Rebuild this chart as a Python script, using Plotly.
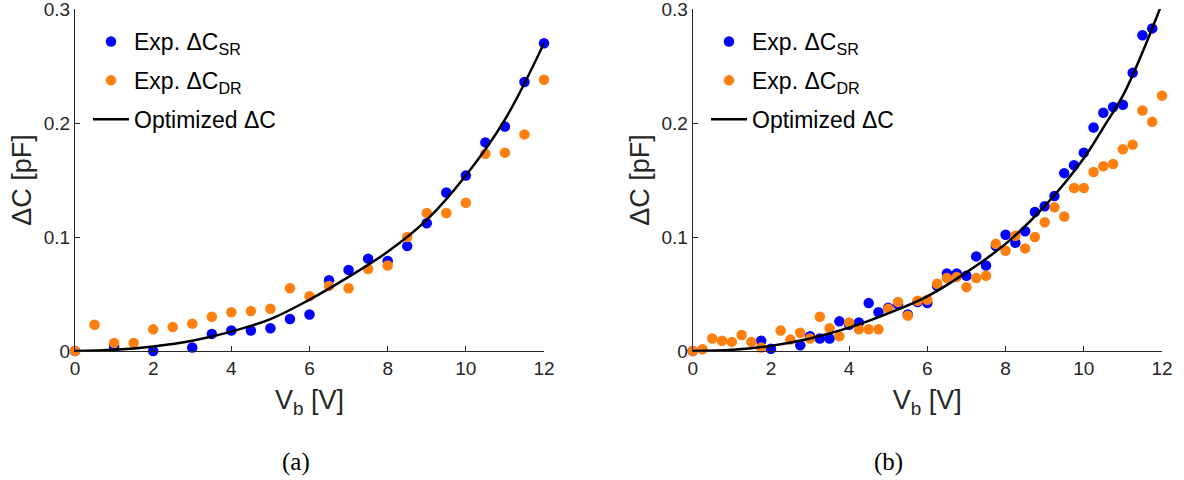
import plotly.graph_objects as go

# ---------------- data: panel (a) ----------------
a_sr_x = [0, 1, 2, 3, 3.5, 4, 4.5, 5, 5.5, 6, 6.5, 7, 7.5, 8, 8.5, 9, 9.5, 10, 10.5, 11, 11.5, 12]
a_sr_y = [0, 0.004, 0.0, 0.003, 0.015, 0.018, 0.018, 0.020, 0.028, 0.032, 0.062, 0.071, 0.081,
          0.079, 0.092, 0.112, 0.139, 0.154, 0.183, 0.197, 0.236, 0.270]
a_dr_x = [0, 0.5, 1, 1.5, 2, 2.5, 3, 3.5, 4, 4.5, 5, 5.5, 6, 6.5, 7, 7.5, 8, 8.5, 9, 9.5, 10,
          10.5, 11, 11.5, 12]
a_dr_y = [0, 0.023, 0.007, 0.007, 0.019, 0.021, 0.024, 0.030, 0.034, 0.035, 0.037, 0.055, 0.048,
          0.057, 0.055, 0.072, 0.075, 0.100, 0.121, 0.121, 0.130, 0.173, 0.174, 0.190, 0.238]
a_fit_x = [0, 1, 2, 3, 4, 5, 6, 7, 8, 9, 10, 11, 12]
a_fit_y = [0, 0.001, 0.004, 0.009, 0.017, 0.028, 0.045, 0.065, 0.087, 0.115, 0.154, 0.203, 0.270]

# ---------------- data: panel (b) ----------------
b_sr_x = [0, 1.75, 2.0, 2.75, 3.0, 3.25, 3.5, 3.75, 4.0, 4.25, 4.5, 4.75, 5.0, 5.25, 5.5, 5.75,
          6.0, 6.25, 6.5, 6.75, 7.0, 7.25, 7.5, 7.75, 8.0, 8.25, 8.5, 8.75, 9.0, 9.25, 9.5, 9.75,
          10.0, 10.25, 10.5, 10.75, 11.0, 11.25, 11.5, 11.75]
b_sr_y = [0, 0.009, 0.002, 0.005, 0.013, 0.011, 0.011, 0.026, 0.023, 0.025, 0.042, 0.034, 0.038,
          0.041, 0.032, 0.043, 0.042, 0.057, 0.068, 0.068, 0.066, 0.083, 0.075, 0.092, 0.102,
          0.095, 0.105, 0.122, 0.127, 0.136, 0.156, 0.163, 0.174, 0.196, 0.209, 0.214, 0.216,
          0.244, 0.277, 0.283]
b_dr_x = [0, 0.25, 0.5, 0.75, 1.0, 1.25, 1.5, 1.75, 2.25, 2.5, 2.75, 3.0, 3.25, 3.5, 3.75, 4.0,
          4.25, 4.5, 4.75, 5.0, 5.25, 5.5, 5.75, 6.0, 6.25, 6.5, 6.75, 7.0, 7.25, 7.5, 7.75, 8.0,
          8.25, 8.5, 8.75, 9.0, 9.25, 9.5, 9.75, 10.0, 10.25, 10.5, 10.75, 11.0, 11.25, 11.5,
          11.75, 12.0]
b_dr_y = [0, 0.0015, 0.011, 0.009, 0.008, 0.014, 0.008, 0.003, 0.018, 0.010, 0.016, 0.011, 0.030,
          0.020, 0.013, 0.025, 0.019, 0.019, 0.019, 0.037, 0.043, 0.031, 0.044, 0.045, 0.059,
          0.064, 0.065, 0.056, 0.064, 0.066, 0.094, 0.088, 0.101, 0.090, 0.100, 0.113, 0.126,
          0.118, 0.143, 0.143, 0.157, 0.162, 0.164, 0.177, 0.181, 0.211, 0.201, 0.224]
b_fit_x = [0, 1, 2, 3, 4, 5, 6, 7, 8, 9, 10, 10.5, 11, 11.5, 12]
b_fit_y = [0, 0.001, 0.0045, 0.011, 0.0205, 0.033, 0.048, 0.069, 0.094, 0.127, 0.169, 0.196,
           0.224, 0.262, 0.305]

x_ticks = [0, 2, 4, 6, 8, 10, 12]
x_ticktext = ["0", "2", "4", "6", "8", "10", "12"]
y_ticks = [0, 0.1, 0.2, 0.3]
y_ticktext = ["0", "0.1", "0.2", "0.3"]

name_sr = "Exp. \u0394C<sub>SR</sub>"
name_dr = "Exp. \u0394C<sub>DR</sub>"
name_fit = "Optimized \u0394C"
x_title = "V<sub>b</sub> [V]"
y_title = "\u0394C [pF]"
captions = ["(a)", "(b)"]

BLUE = "#0000ff"
ORANGE = "#ff7f0e"
AX = "#262626"
FONT = "Liberation Sans, Arial, sans-serif"

fig = go.Figure()

panels = [
    (a_sr_x, a_sr_y, a_dr_x, a_dr_y, a_fit_x, a_fit_y, "x", "y", "legend"),
    (b_sr_x, b_sr_y, b_dr_x, b_dr_y, b_fit_x, b_fit_y, "x2", "y2", "legend2"),
]
for sx, sy, dx, dy, fx, fy, xa, ya, lg in panels:
    fig.add_trace(go.Scatter(x=sx, y=sy, mode="markers", name=name_sr, xaxis=xa, yaxis=ya,
                             legend=lg, legendgroup=lg + "a", cliponaxis=False,
                             marker=dict(color=BLUE, size=10.5, line=dict(width=0))))
    fig.add_trace(go.Scatter(x=dx, y=dy, mode="markers", name=name_dr, xaxis=xa, yaxis=ya,
                             legend=lg, legendgroup=lg + "b", cliponaxis=False,
                             marker=dict(color=ORANGE, size=10.5, line=dict(width=0))))
    fig.add_trace(go.Scatter(x=fx, y=fy, mode="lines", name=name_fit, xaxis=xa, yaxis=ya,
                             legend=lg, legendgroup=lg + "c",
                             line=dict(color="black", width=2.5, shape="spline", smoothing=1.0)))

W, H = 1184, 480
top_px, bot_px = 9, 351
ydom = [(H - bot_px) / H, (H - top_px) / H]
xdomA = [75 / W, 544 / W]
xdomB = [692.7 / W, 1162 / W]

def xaxis(dom, anchor):
    return dict(domain=dom, range=[0, 12], anchor=anchor, tickvals=x_ticks, ticktext=x_ticktext,
                ticks="inside", ticklen=5, tickcolor=AX, showline=True, linecolor=AX,
                linewidth=1, showgrid=False, zeroline=False, automargin=False,
                tickfont=dict(size=19, color=AX, family=FONT),
                title=dict(text=x_title, font=dict(size=27, color=AX, family=FONT),
                           standoff=12))

def yaxis(anchor):
    return dict(domain=ydom, range=[0, 0.3 + 1e-9], anchor=anchor, tickvals=y_ticks,
                ticktext=y_ticktext, ticklabeloverflow="allow",
                ticks="inside", ticklen=5, tickcolor=AX, showline=True, linecolor=AX,
                linewidth=1, showgrid=False, zeroline=False, automargin=False,
                tickfont=dict(size=19, color=AX, family=FONT),
                title=dict(text=y_title, font=dict(size=27, color=AX, family=FONT),
                           standoff=4))

def legend(xpx):
    return dict(x=xpx / W, y=1 - 20 / H, xanchor="left", yanchor="top",
                bgcolor="rgba(0,0,0,0)", borderwidth=0, tracegroupgap=6, itemwidth=36,
                font=dict(size=23, color="black", family=FONT))

cap_font = dict(size=25, color="black", family="Liberation Serif, DejaVu Serif, serif")
fig.update_layout(
    width=W, height=H, margin=dict(l=0, r=0, t=0, b=0),
    paper_bgcolor="white", plot_bgcolor="white",
    font=dict(family=FONT, color=AX),
    xaxis=xaxis(xdomA, "y"), yaxis=yaxis("x"),
    xaxis2=xaxis(xdomB, "y2"), yaxis2=yaxis("x2"),
    legend=legend(88), legend2=legend(706),
    annotations=[
        dict(text=captions[0], x=296 / W, y=(H - 462) / H, xref="paper", yref="paper",
             showarrow=False, xanchor="center", yanchor="middle", font=cap_font),
        dict(text=captions[1], x=888 / W, y=(H - 462) / H, xref="paper", yref="paper",
             showarrow=False, xanchor="center", yanchor="middle", font=cap_font),
    ],
)

fig.write_html("out.html")
